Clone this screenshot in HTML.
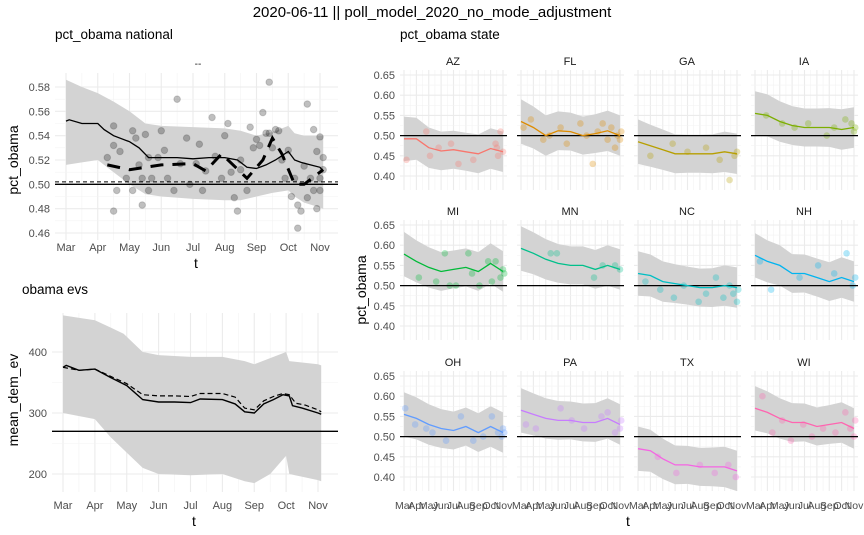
<!DOCTYPE html>
<html><head><meta charset="utf-8">
<style>
html,body{margin:0;padding:0;background:#fff;}
svg{display:block;font-family:"Liberation Sans",sans-serif;}
</style></head>
<body>
<svg id="c" width="864" height="535" viewBox="0 0 864 535">
<text x="432" y="17" text-anchor="middle" font-size="15" fill="#000">2020-06-11 || poll_model_2020_no_mode_adjustment</text>
<text x="55" y="39" font-size="13.5" fill="#000">pct_obama national</text>
<text x="400" y="39" font-size="13.5" fill="#000">pct_obama state</text>
<text x="22" y="294" font-size="13.5" fill="#000">obama evs</text>
<text x="198" y="67" text-anchor="middle" font-size="10" fill="#1a1a1a">--</text>
</svg>
<script>
// ---- national data (t in months from Mar=0) ----
const natLineT=[0,0.1,0.5,1,1.2,1.5,2,2.3,2.6,3,3.5,4,4.5,5,5.4,5.7,6,6.3,6.6,7,7.2,7.4,7.7,8,8.1];
const natLineV=[0.552,0.553,0.550,0.550,0.545,0.540,0.535,0.530,0.522,0.522,0.522,0.521,0.522,0.522,0.520,0.514,0.513,0.516,0.520,0.527,0.520,0.518,0.516,0.514,0.511];
const natBandT=[0,0.5,1,1.5,2,2.5,3,4,5,5.5,6,6.5,7,7.2,7.5,8,8.1];
const natBandHi=[0.586,0.580,0.575,0.568,0.560,0.550,0.548,0.547,0.546,0.544,0.540,0.543,0.548,0.542,0.540,0.540,0.540];
const natBandLo=[0.516,0.518,0.520,0.510,0.500,0.492,0.490,0.488,0.487,0.487,0.490,0.493,0.495,0.490,0.485,0.481,0.480];
const natDashT=[1.3,2,3,4,4.4,4.9,5.7,6.2,6.5,6.8,7.2,7.5,8.1];
const natDashV=[0.516,0.512,0.516,0.517,0.511,0.525,0.505,0.520,0.538,0.525,0.500,0.500,0.512];
const natPtsT=[1.3,1.5,1.5,1.5,1.6,1.7,1.9,2.1,2.1,2.2,2.3,2.4,2.4,2.5,2.6,2.6,2.7,2.9,3,3.1,3.2,3.4,3.5,3.6,3.8,3.9,4.1,4.2,4.3,4.4,4.6,4.7,4.9,5,5.1,5.2,5.3,5.4,5.5,5.7,5.8,5.9,6,6.1,6.2,6.3,6.4,6.5,6.6,6.7,6.8,6.9,7,7.1,7.2,7.3,7.4,7.5,7.6,7.7,7.8,7.8,7.9,7.9,8,8,8,8.1,8.1,5.5,6.4,7.3,7.6];
const natPtsV=[0.522,0.548,0.532,0.478,0.495,0.527,0.505,0.544,0.495,0.538,0.516,0.505,0.483,0.541,0.522,0.495,0.505,0.522,0.544,0.528,0.505,0.495,0.570,0.517,0.538,0.500,0.517,0.533,0.495,0.511,0.555,0.523,0.505,0.540,0.550,0.510,0.489,0.478,0.520,0.495,0.547,0.530,0.537,0.532,0.559,0.542,0.584,0.530,0.545,0.544,0.520,0.505,0.528,0.490,0.505,0.483,0.478,0.515,0.489,0.505,0.495,0.545,0.480,0.527,0.505,0.539,0.495,0.522,0.512,0.512,0.542,0.464,0.566];
// ---- evs data ----
const evBandT=[0,1,1.5,1.9,2.5,3,4,5,5.7,6,6.5,7,7.1,8,8.1];
const evBandHi=[460,452,440,430,400,395,392,392,385,380,390,400,385,380,378];
const evBandLo=[300,290,260,240,210,200,198,200,188,185,200,230,200,190,188];
const evLineT=[0,0.1,0.5,1,1.5,2,2.5,3,3.5,4,4.3,5,5.4,5.7,6,6.3,6.6,6.9,7.1,7.2,7.5,8,8.1];
const evLineV=[375,378,370,372,358,345,322,318,318,317,323,322,315,302,300,315,322,330,328,312,308,300,298];
const evDashT=[0,0.5,1,1.5,2,2.5,3,3.5,4,4.3,5,5.4,5.7,6,6.3,6.6,6.9,7.1,7.3,7.6,8,8.1];
const evDashV=[375,370,372,360,348,330,328,328,327,332,332,326,308,305,320,327,332,330,316,313,305,302];
// ---- state data ----
const states=["AZ","FL","GA","IA","MI","MN","NC","NH","OH","PA","TX","WI"];
const stateColors=["#F8766D","#DE8C00","#B79F00","#7CAE00","#00BA38","#00C08B","#00BFC4","#00B4F0","#619CFF","#C77CFF","#F564E3","#FF64B0"];
const stateLine=[
[.492,.492,.470,.462,.465,.460,.455,.468,.460],
[.535,.520,.500,.512,.510,.500,.505,.512,.500],
[.485,.475,.465,.455,.455,.455,.455,.460,.455],
[.555,.550,.535,.525,.520,.520,.520,.515,.520],
[.578,.560,.545,.535,.540,.545,.535,.555,.535],
[.592,.580,.565,.555,.550,.550,.540,.550,.540],
[.530,.525,.510,.505,.500,.495,.495,.500,.495],
[.575,.560,.550,.530,.530,.520,.510,.520,.510],
[.555,.545,.530,.520,.515,.525,.510,.525,.510],
[.565,.555,.545,.540,.540,.535,.535,.545,.530],
[.470,.465,.445,.430,.430,.425,.425,.425,.415],
[.570,.560,.545,.535,.535,.525,.530,.535,.520]];
const stateHalfW=[.055,.052,.050,.048,.047,.047,.048,.050,.050];
const stateDots=[
[[0.2,.44],[1.8,.51],[2.1,.45],[2.8,.47],[3.8,.48],[4.4,.43],[5.6,.44],[7.4,.48],[7.6,.45],[7.8,.51],[8,.46],[7.5,.47]],
[[0.2,.52],[0.8,.54],[1.8,.49],[2.3,.5],[3.2,.52],[3.7,.48],[4.8,.53],[5.3,.5],[5.8,.43],[6.2,.51],[6.6,.53],[7,.49],[7.3,.52],[7.6,.47],[7.8,.5],[8,.49],[8.1,.51]],
[[1,.45],[2.8,.48],[4,.46],[5.5,.47],[6.6,.44],[7.4,.39],[7.8,.45],[8,.46]],
[[0.9,.55],[2.2,.53],[3.2,.52],[4.3,.53],[5.8,.5],[6.4,.52],[7.3,.54],[7.8,.53],[8,.51],[8.1,.52]],
[[1.2,.52],[2.6,.51],[3.3,.58],[3.7,.5],[4.2,.5],[5.2,.58],[5.5,.53],[6.1,.5],[6.8,.56],[7.1,.51],[7.4,.56],[7.8,.52],[8,.54],[8.1,.53]],
[[2.4,.58],[2.9,.58],[5.9,.52],[6.6,.55],[7.6,.55],[8,.54]],
[[0.6,.51],[1.8,.49],[2.9,.47],[3.7,.5],[4.9,.46],[5.5,.48],[6.3,.52],[6.9,.47],[7.4,.5],[7.7,.48],[8,.46],[8.1,.49]],
[[0.4,.56],[1.3,.49],[3.6,.52],[5.1,.55],[6.4,.53],[7.4,.58],[7.9,.5],[8.1,.52]],
[[0.1,.57],[0.9,.53],[1.8,.52],[2.3,.51],[3.4,.49],[4.6,.55],[5.6,.49],[6.4,.5],[7.1,.55],[7.6,.51],[7.9,.5],[8,.52],[8.1,.51]],
[[0.4,.53],[1.2,.52],[3.2,.57],[4.1,.54],[5.1,.52],[6.5,.55],[7,.56],[7.6,.51],[8,.52],[8.1,.54]],
[[1.6,.45],[3.1,.41],[5,.43],[6.2,.41],[7.3,.43],[7.9,.4]],
[[0.6,.6],[1.4,.51],[2.2,.54],[2.9,.49],[3.9,.53],[4.6,.5],[5.5,.52],[6.5,.51],[7.3,.56],[7.7,.52],[8,.5],[8.1,.54]]];
const stateYTicks=[0.40,0.45,0.50,0.55,0.60,0.65];
const months=["Mar","Apr","May","Jun","Jul","Aug","Sep","Oct","Nov"];
const natYTicks=[0.46,0.48,0.50,0.52,0.54,0.56,0.58];
const evYTicks=[200,300,400];

const NS="http://www.w3.org/2000/svg";
const svg=document.getElementById('c');
function el(tag,attrs,parent){const e=document.createElementNS(NS,tag);for(const k in attrs)e.setAttribute(k,attrs[k]);(parent||svg).appendChild(e);return e;}
function lin(d0,d1,r0,r1){return v=>r0+(v-d0)*(r1-r0)/(d1-d0);}
function pathXY(xs,ys,X,Y){return xs.map((t,i)=>(i?'L':'M')+X(t).toFixed(1)+','+Y(ys[i]).toFixed(1)).join('');}
function bandPath(ts,hi,lo,X,Y){let d=pathXY(ts,hi,X,Y);for(let i=ts.length-1;i>=0;i--)d+='L'+X(ts[i]).toFixed(1)+','+Y(lo[i]).toFixed(1);return d+'Z';}
function grid(g,x0,x1,y0,y1,X,Y,yt,minor){
  for(let m=0;m<=8;m++){const l=el('line',{x1:X(m),x2:X(m),y1:y0,y2:y1,stroke:'#ebebeb','stroke-width':1.1},g);
    if(m<8){const l2=el('line',{x1:X(m+0.5),x2:X(m+0.5),y1:y0,y2:y1,stroke:'#f3f3f3','stroke-width':0.6},g);}}
  yt.forEach((v,i)=>{const l=el('line',{x1:x0,x2:x1,y1:Y(v),y2:Y(v),stroke:'#ebebeb','stroke-width':1.1},g);
    if(i<yt.length-1){const l2=el('line',{x1:x0,x2:x1,y1:Y(v+minor),y2:Y(v+minor),stroke:'#f3f3f3','stroke-width':0.6},g);}});
}

// ===== National panel =====
(function(){
  const g=el('g',{});
  const X=lin(0,8,66,320),Y=lin(0.46,0.58,233,87);
  grid(g,55,338,73,240,X,Y,natYTicks,0.01);
  const b=el('path',{d:bandPath(natBandT,natBandHi,natBandLo,X,Y),fill:'#d3d3d3'},g);
  natPtsT.forEach((t,i)=>{const c=el('circle',{cx:X(t),cy:Y(natPtsV[i]),r:3.3,fill:'#000','fill-opacity':0.25,stroke:'#000','stroke-opacity':0.15},g);});
  const h1=el('line',{x1:55,x2:338,y1:Y(0.5),y2:Y(0.5),stroke:'#000','stroke-width':1.3},g);
  const h2=el('line',{x1:55,x2:338,y1:Y(0.502),y2:Y(0.502),stroke:'#000','stroke-width':1,'stroke-dasharray':'4,3'},g);
  const d=el('path',{d:pathXY(natDashT,natDashV,X,Y),fill:'none',stroke:'#000','stroke-width':3,'stroke-dasharray':'13,9'},g);
  const l=el('path',{d:pathXY(natLineT,natLineV,X,Y),fill:'none',stroke:'#000','stroke-width':1.3},g);
  natYTicks.forEach(v=>{const t=el('text',{x:50,y:Y(v)+4,'text-anchor':'end','font-size':11,fill:'#4d4d4d'},g);t.textContent=v.toFixed(2);});
  months.forEach((m,i)=>{const t=el('text',{x:X(i),y:251,'text-anchor':'middle','font-size':11,fill:'#4d4d4d'},g);t.textContent=m;});
  const xt=el('text',{x:196,y:268,'text-anchor':'middle','font-size':14,fill:'#000'},g);xt.textContent='t';
  const yt=el('text',{x:0,y:0,transform:'translate(18,160) rotate(-90)','text-anchor':'middle','font-size':14,fill:'#000'},g);yt.textContent='pct_obama';
})();

// ===== EVs panel =====
(function(){
  const g=el('g',{});
  const X=lin(0,8,63,318),Y=lin(200,400,474,352);
  grid(g,52,338,313,492,X,Y,evYTicks,50);
  const b=el('path',{d:bandPath(evBandT,evBandHi,evBandLo,X,Y),fill:'#d3d3d3'},g);
  const h=el('line',{x1:52,x2:338,y1:Y(270),y2:Y(270),stroke:'#000','stroke-width':1.3},g);
  const d=el('path',{d:pathXY(evDashT,evDashV,X,Y),fill:'none',stroke:'#000','stroke-width':1.2,'stroke-dasharray':'5,3'},g);
  const l=el('path',{d:pathXY(evLineT,evLineV,X,Y),fill:'none',stroke:'#000','stroke-width':1.4},g);
  evYTicks.forEach(v=>{const t=el('text',{x:47,y:Y(v)+4,'text-anchor':'end','font-size':11,fill:'#4d4d4d'},g);t.textContent=v;});
  months.forEach((m,i)=>{const t=el('text',{x:X(i),y:509,'text-anchor':'middle','font-size':11,fill:'#4d4d4d'},g);t.textContent=m;});
  const xt=el('text',{x:194,y:526,'text-anchor':'middle','font-size':14,fill:'#000'},g);xt.textContent='t';
  const yt=el('text',{x:0,y:0,transform:'translate(18,400) rotate(-90)','text-anchor':'middle','font-size':14,fill:'#000'},g);yt.textContent='mean_dem_ev';
})();

// ===== State panels =====
const rowTops=[70,220,371];
states.forEach((s,si)=>{
  const col=si%4,row=Math.floor(si/4);
  const left=400+col*117,top=rowTops[row];
  const g=el('g',{});
  const X=lin(0,8,left+4,left+103),Y=lin(0.40,0.65,top+106,top+5);
  grid(g,left,left+107,top,top+120,X,Y,stateYTicks,0.025);
  const ts=stateLine[si].map((v,i)=>i);
  const hi=stateLine[si].map((v,i)=>v+stateHalfW[i]),lo=stateLine[si].map((v,i)=>v-stateHalfW[i]);
  const b=el('path',{d:bandPath(ts,hi,lo,X,Y),fill:'#d3d3d3'},g);
  stateDots[si].forEach(p=>{const c=el('circle',{cx:X(p[0]),cy:Y(p[1]),r:3.3,fill:stateColors[si],'fill-opacity':0.3},g);});
  const h=el('line',{x1:left,x2:left+107,y1:Y(0.5),y2:Y(0.5),stroke:'#000','stroke-width':1.3},g);
  const l=el('path',{d:pathXY(ts,stateLine[si],X,Y),fill:'none',stroke:stateColors[si],'stroke-width':1.3},g);
  const st=el('text',{x:left+53,y:top-5,'text-anchor':'middle','font-size':11,fill:'#1a1a1a'},g);st.textContent=s;
  if(col===0){stateYTicks.forEach(v=>{const t=el('text',{x:left-5,y:Y(v)+4,'text-anchor':'end','font-size':11,fill:'#4d4d4d'},g);t.textContent=v.toFixed(2);});}
  if(row===2){months.forEach((m,i)=>{const t=el('text',{x:X(i),y:509,'text-anchor':'middle','font-size':10.5,fill:'#4d4d4d'},g);t.textContent=m;});}
});
const sxt=el('text',{x:628,y:526,'text-anchor':'middle','font-size':14,fill:'#000'});
sxt.textContent='t';


const syt=el('text',{x:0,y:0,transform:'translate(366,290) rotate(-90)','text-anchor':'middle','font-size':14,fill:'#000'});
syt.textContent='pct_obama';


</script>
</body></html>
